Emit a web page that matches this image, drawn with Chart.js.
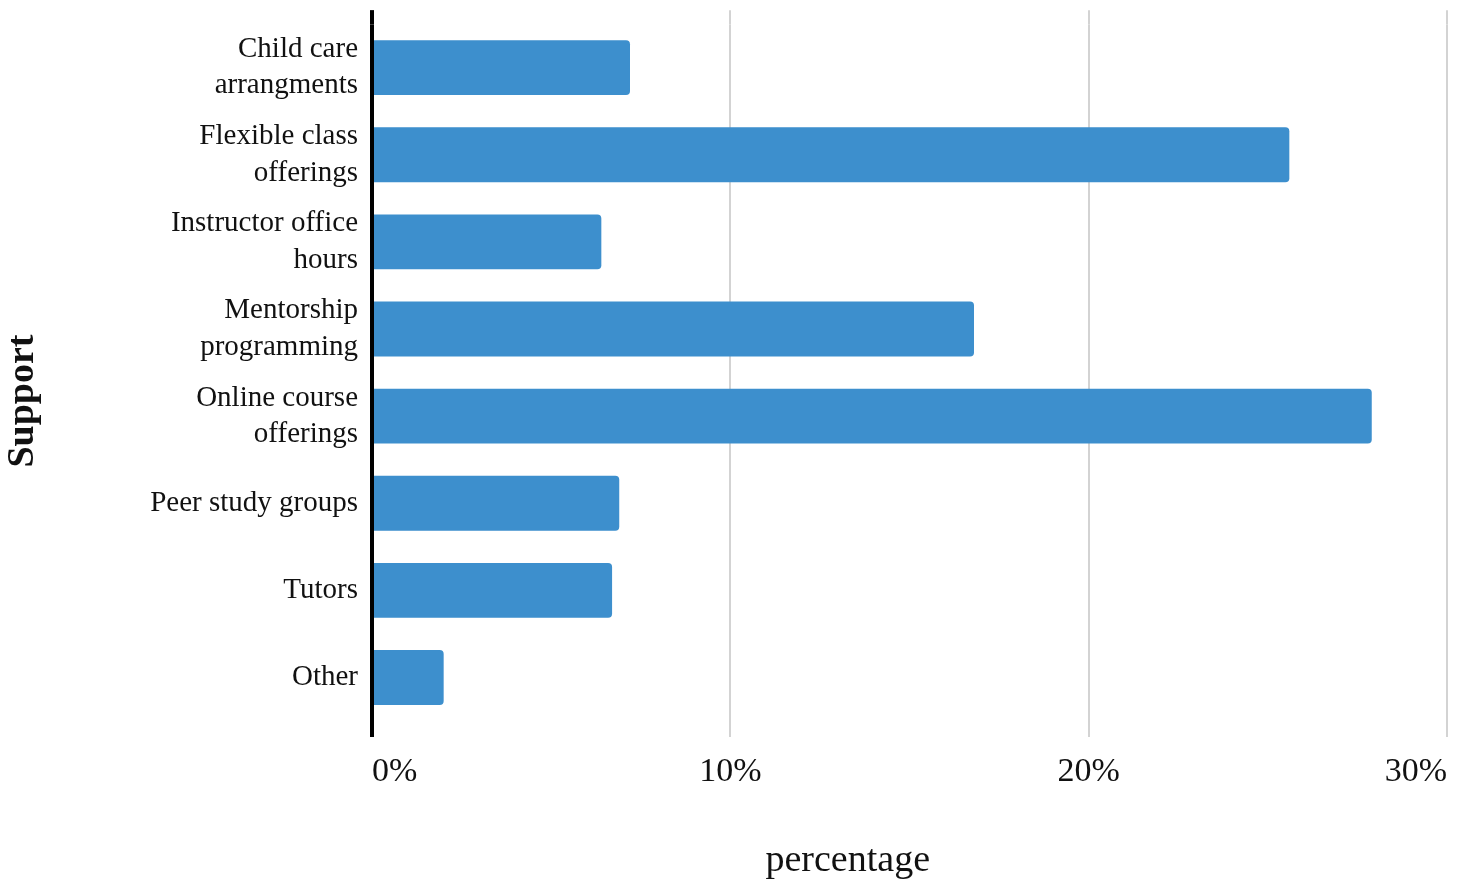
<!DOCTYPE html>
<html>
<head>
<meta charset="utf-8">
<script src="https://cdn.jsdelivr.net/npm/chart.js@4/dist/chart.umd.min.js"></script>
<style>
  html, body { margin: 0; padding: 0; background: #fff; }
  #wrap { width: 1473px; height: 884px; }
</style>
</head>
<body>
<div id="wrap"><canvas id="supportChart"></canvas></div>
<script>
/* --------------- Data --------------- */
var categories = [
  ["Child care", "arrangments"],
  ["Flexible class", "offerings"],
  ["Instructor office", "hours"],
  ["Mentorship", "programming"],
  ["Online course", "offerings"],
  "Peer study groups",
  "Tutors",
  "Other"
];
var percentages = [7.2, 25.6, 6.4, 16.8, 27.9, 6.9, 6.7, 2.0];
var xTicks = [0, 10, 20, 30];

var barColor = "#3d8fcd";
var serif = "'Liberation Serif', 'DejaVu Serif', serif";

/* gridline at 0 doubles as the black axis line */
var gridColor = (ctx) => (ctx.tick && ctx.tick.value === 0 ? "#000000" : "#d3d3d3");
var gridWidth = (ctx) => (ctx.tick && ctx.tick.value === 0 ? 4 : 2);

/* --------------- Chart --------------- */
let supportChart = new Chart(document.getElementById("supportChart"), {
  type: "bar",
  data: {
    labels: categories,
    datasets: [
      {
        data: percentages,
        backgroundColor: barColor,
        borderRadius: 4,
        barPercentage: 0.63,
        categoryPercentage: 1,
      },
    ],
  },
  options: {
    indexAxis: "y",
    responsive: true,
    maintainAspectRatio: false,
    animation: false,
    layout: { padding: { top: 2, right: 26, bottom: 0, left: 0 } },
    plugins: {
      legend: { display: false },
      tooltip: { enabled: false },
    },
    scales: {
      x: {
        type: "linear",
        position: "bottom",
        min: xTicks[0],
        max: xTicks[xTicks.length - 1],
        afterBuildTicks: (scale) => { scale.ticks = xTicks.map((v) => ({ value: v })); },
        grid: { color: gridColor, lineWidth: gridWidth, drawTicks: true, tickLength: 16 },
        border: { display: false },
        ticks: {
          align: "inner",
          padding: 15,
          color: "#111",
          font: { family: serif, size: 34 },
          callback: (v) => v + "%",
        },
        title: {
          display: true,
          // trailing spaces nudge the centred title left, as in the original
          text: "percentage             ",
          color: "#111",
          font: { family: serif, size: 38 },
          padding: { top: 0, bottom: 0 },
        },
        afterFit: (scale) => { scale.height = 163; },
      },
      x2: {
        type: "linear",
        position: "top",
        min: xTicks[0],
        max: xTicks[xTicks.length - 1],
        afterBuildTicks: (scale) => { scale.ticks = xTicks.map((v) => ({ value: v })); },
        grid: { color: gridColor, lineWidth: gridWidth, drawOnChartArea: false, drawTicks: true, tickLength: 14 },
        border: { display: false },
        ticks: { display: false },
        afterFit: (scale) => { scale.height = 14; },
      },
      y: {
        grid: { display: false },
        border: { display: false },
        ticks: {
          padding: 6,
          color: "#111",
          font: { family: serif, size: 29, lineHeight: 1.25 },
        },
        title: {
          display: true,
          text: "Support      ",
          color: "#111",
          font: { family: serif, size: 38, weight: "bold" },
          padding: { top: 0, bottom: 0 },
        },
        afterFit: (scale) => { scale.width = 372; },
      },
    },
  },
});
</script>
</body>
</html>
